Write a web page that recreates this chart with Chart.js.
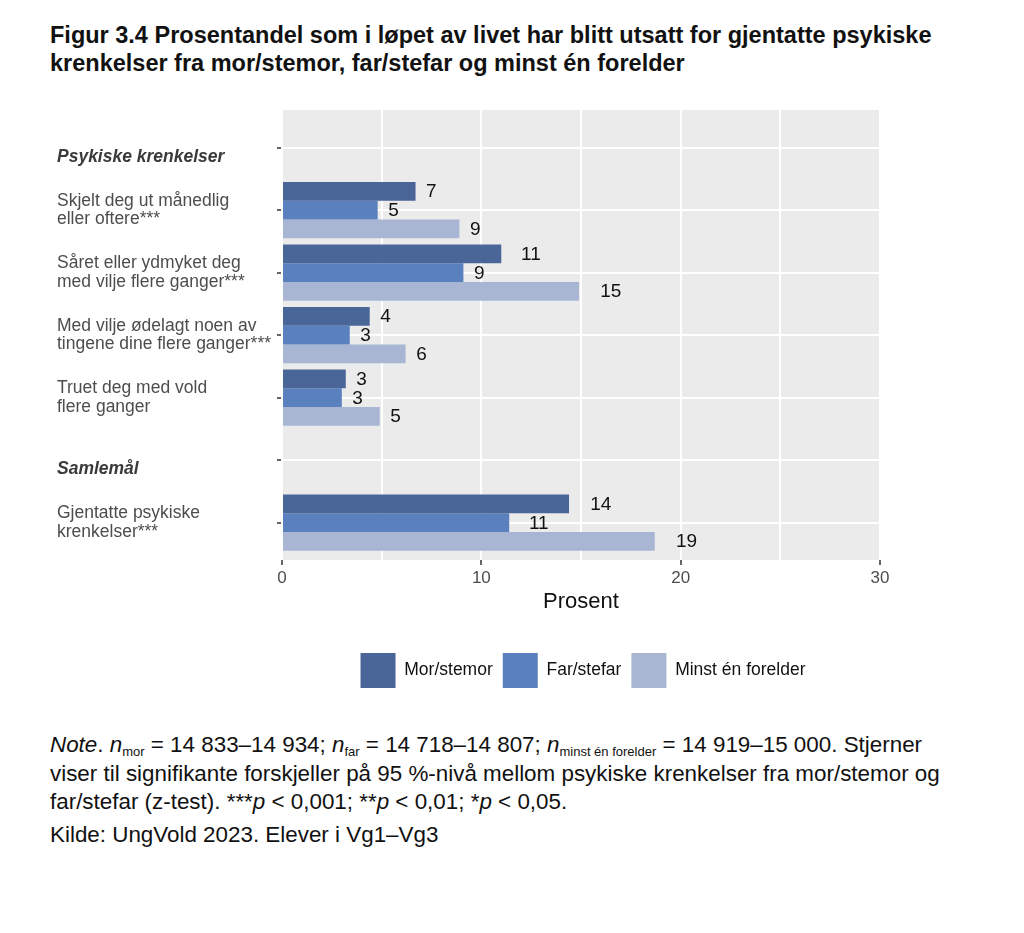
<!DOCTYPE html>
<html lang="no">
<head>
<meta charset="utf-8">
<title>Figur 3.4</title>
<script src="https://cdn.jsdelivr.net/npm/chart.js@4.4.1/dist/chart.umd.min.js"></script>
<style>
  body { margin: 0; background: #fff; font-family: "Liberation Sans", Arial, sans-serif; width: 1024px; height: 933px; overflow: hidden; position: relative; }
  #title { position: absolute; left: 50px; top: 21px; font-weight: bold; font-size: 23.5px; line-height: 28px; color: #111; }
  #chartBox { position: absolute; left: 0; top: 95px; width: 1024px; height: 605px; }
  #note { position: absolute; left: 50px; top: 731px; font-size: 22.4px; line-height: 28.5px; color: #111; }
  #source { position: absolute; left: 50px; top: 821px; font-size: 22.4px; line-height: 28px; color: #111; }
  sub { font-size: 13px; vertical-align: -4px; line-height: 0; }
</style>
</head>
<body>
<div id="title">Figur 3.4 Prosentandel som i løpet av livet har blitt utsatt for gjentatte psykiske<br>krenkelser fra mor/stemor, far/stefar og minst én forelder</div>
<div id="chartBox"><canvas id="chart"></canvas></div>
<div id="note"><i>Note</i>. <i>n</i><sub>mor</sub> = 14 833–14 934; <i>n</i><sub>far</sub> = 14 718–14 807; <i>n</i><sub>minst én forelder</sub> = 14 919–15 000. Stjerner<br>viser til signifikante forskjeller på 95 %-nivå mellom psykiske krenkelser fra mor/stemor og<br>far/stefar (z-test). ***<i>p</i> &lt; 0,001; **<i>p</i> &lt; 0,01; *<i>p</i> &lt; 0,05.</div>
<div id="source">Kilde: UngVold 2023. Elever i Vg1–Vg3</div>
<script>
// Rader på y-aksen (overskrifter uten søyler; tom første linje senker overskriften litt)
const rowLabels = [
  ["", "Psykiske krenkelser"],
  ["Skjelt deg ut månedlig", "eller oftere***"],
  ["Såret eller ydmyket deg", "med vilje flere ganger***"],
  ["Med vilje ødelagt noen av", "tingene dine flere ganger***"],
  ["Truet deg med vold", "flere ganger"],
  ["", "Samlemål"],
  ["Gjentatte psykiske", "krenkelser***"]
];
const headerRows = [0, 5];
const dataRows = [1, 2, 3, 4, 6];

// Prosentverdier
const morStemor = [6.7, 11.0, 4.4, 3.2, 14.4];
const farStefar = [4.8, 9.1, 3.4, 3.0, 11.4];
const minstEnForelder = [8.9, 14.9, 6.2, 4.9, 18.7];

const seriesNames = ["Mor/stemor", "Far/stefar", "Minst én forelder"];
const seriesColors = ["#4A6699", "#5A81BD", "#A8B6D4"];
const xTicks = [0, 10, 20, 30];

const FONT = "'Liberation Sans', Arial, sans-serif";

function toPoints(values) {
  return dataRows.map((row, i) => ({ x: values[i], y: row }));
}

// Grå bakgrunn i plottområdet
const panelBackground = {
  id: "panelBackground",
  beforeDraw(chart) {
    const { ctx, chartArea: a } = chart;
    ctx.save();
    ctx.fillStyle = "#EBEBEB";
    ctx.fillRect(a.left, a.top, a.right - a.left, a.bottom - a.top);
    ctx.restore();
  }
};

// Tall ved enden av søylene
const barLabels = {
  id: "barLabels",
  afterDatasetsDraw(chart) {
    const ctx = chart.ctx;
    ctx.save();
    ctx.font = "19px " + FONT;
    ctx.fillStyle = "#111";
    ctx.textAlign = "left";
    ctx.textBaseline = "middle";
    chart.data.datasets.forEach((ds, di) => {
      chart.getDatasetMeta(di).data.forEach((bar, i) => {
        const txt = String(Math.round(ds.data[i].x));
        const w = ctx.measureText(txt).width;
        ctx.fillText(txt, bar.x + w, bar.y + 1);
      });
    });
    ctx.restore();
  }
};

// Sentrer legenden under plottområdet
const centerLegend = {
  id: "centerLegend",
  afterLayout(chart) {
    const lg = chart.legend;
    if (!lg) return;
    const a = chart.chartArea;
    const dx = (a.left + a.right) / 2 + 2 - (lg.left + lg.right) / 2;
    lg.left += dx;
    lg.right += dx;
  }
};

function initChart() {
  const ctx = document.getElementById("chart").getContext("2d");
  new Chart(ctx, {
    type: "bar",
    data: {
      datasets: [
        { label: seriesNames[0], data: toPoints(morStemor), backgroundColor: seriesColors[0] },
        { label: seriesNames[1], data: toPoints(farStefar), backgroundColor: seriesColors[1] },
        { label: seriesNames[2], data: toPoints(minstEnForelder), backgroundColor: seriesColors[2] }
      ]
    },
    options: {
      indexAxis: "y",
      responsive: true,
      maintainAspectRatio: false,
      animation: false,
      categoryPercentage: 0.9,
      barPercentage: 1.0,
      layout: { padding: { left: 57, right: 144, top: 15, bottom: 2 } },
      scales: {
        y: {
          type: "linear",
          min: -0.6,
          max: 6.6,
          reverse: true,
          offset: false,
          afterBuildTicks: scale => { scale.ticks = rowLabels.map((_, i) => ({ value: i })); },
          afterFit: scale => {
            scale.width = 225;
            scale.paddingTop = 0;
            scale.paddingBottom = 0;
          },
          border: { display: false },
          grid: { offset: false, color: "#FFFFFF", lineWidth: 2, tickColor: "#333", tickLength: 5, tickWidth: 1.5 },
          ticks: {
            autoSkip: false,
            crossAlign: "far",
            callback: v => rowLabels[v],
            color: c => headerRows.includes(c.index) ? "#3a3a3a" : "#4D4D4D",
            font: c => headerRows.includes(c.index)
              ? { family: FONT, size: 17.5, style: "italic", weight: "bold", lineHeight: 1.05 }
              : { family: FONT, size: 17.5, lineHeight: 1.05 }
          }
        },
        x: {
          type: "linear",
          min: 0,
          max: 30,
          afterFit: scale => { scale.height = 83; },
          border: { display: false },
          grid: {
            color: "#FFFFFF",
            lineWidth: 2,
            tickLength: 5,
            tickWidth: 1.5,
            tickColor: c => xTicks.includes(c.tick.value) ? "#333" : "rgba(0,0,0,0)"
          },
          ticks: {
            stepSize: 5,
            padding: 3,
            color: "#4D4D4D",
            font: { family: FONT, size: 17 },
            callback: v => xTicks.includes(v) ? v : ""
          },
          title: {
            display: true,
            text: "Prosent",
            color: "#111",
            font: { family: FONT, size: 22 },
            padding: { top: 4, bottom: 28 }
          }
        }
      },
      plugins: {
        legend: {
          position: "bottom",
          labels: {
            boxWidth: 35,
            boxHeight: 35,
            padding: 10,
            color: "#111",
            font: { family: FONT, size: 17.5 }
          }
        },
        tooltip: { enabled: false }
      }
    },
    plugins: [panelBackground, barLabels, centerLegend]
  });
}

document.addEventListener("DOMContentLoaded", initChart);
</script>
</body>
</html>
